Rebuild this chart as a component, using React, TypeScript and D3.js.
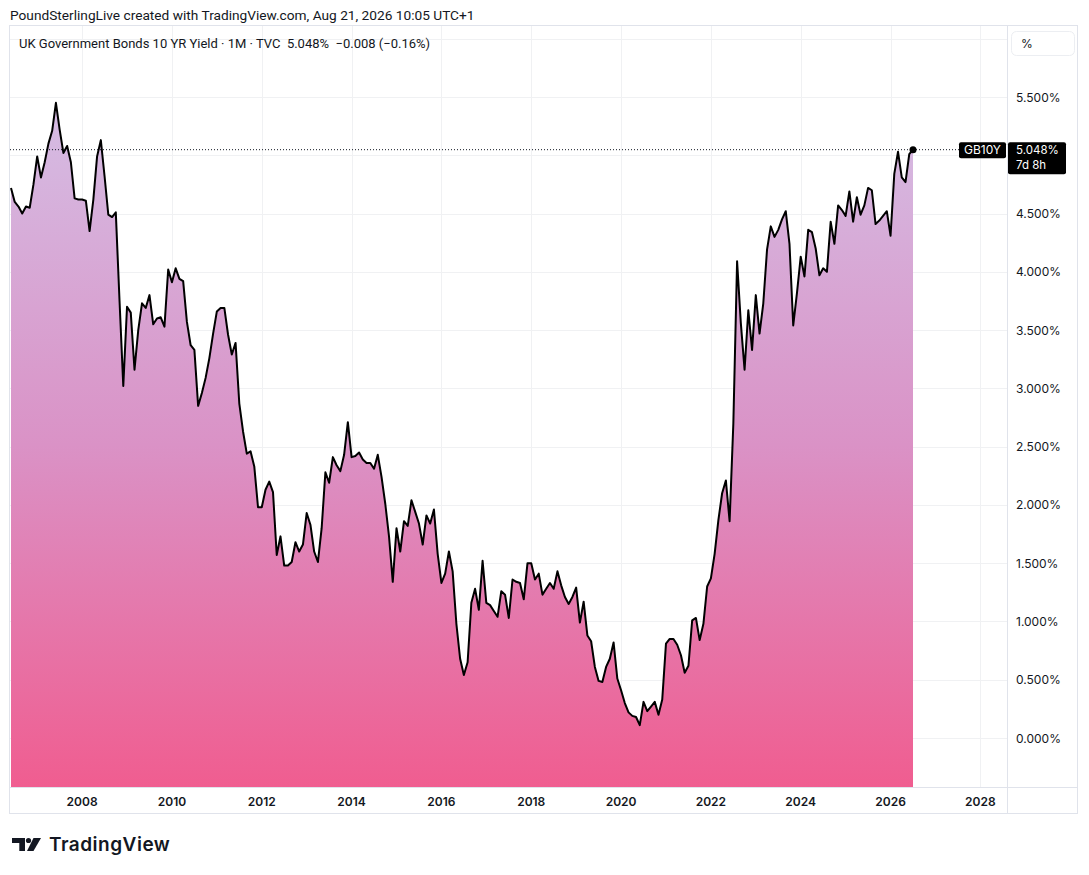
import React from "react";
import * as d3 from "d3";

// Monthly close of UK 10Y gilt yield (%), Jun 2006 .. Aug 2026
const startLabel = "2006-06";
const yields: number[] = [
  4.72, 4.60, 4.56, 4.50, 4.56, 4.55, 4.75, 4.99, 4.81, 4.94, 5.10, 5.21, 5.45, 5.22, 5.02, 5.08, 4.94, 4.63, 4.62, 4.62,
  4.61, 4.35, 4.62, 4.99, 5.13, 4.82, 4.49, 4.47, 4.51, 3.75, 3.02, 3.70, 3.65, 3.16, 3.50, 3.73, 3.69, 3.80, 3.55, 3.60,
  3.61, 3.53, 4.02, 3.91, 4.03, 3.94, 3.92, 3.57, 3.37, 3.33, 2.85, 2.96, 3.09, 3.26, 3.47, 3.66, 3.69, 3.69, 3.46, 3.29,
  3.39, 2.87, 2.63, 2.44, 2.46, 2.33, 1.98, 1.98, 2.13, 2.20, 2.11, 1.57, 1.73, 1.48, 1.48, 1.51, 1.68, 1.60, 1.66, 1.93,
  1.83, 1.60, 1.51, 1.80, 2.28, 2.19, 2.41, 2.34, 2.29, 2.43, 2.71, 2.41, 2.42, 2.45, 2.39, 2.36, 2.36, 2.31, 2.43, 2.24,
  2.01, 1.73, 1.34, 1.80, 1.60, 1.86, 1.82, 2.04, 1.94, 1.84, 1.66, 1.91, 1.84, 1.96, 1.58, 1.33, 1.41, 1.60, 1.43, 0.98,
  0.68, 0.54, 0.65, 1.16, 1.28, 1.10, 1.52, 1.16, 1.14, 1.09, 1.04, 1.26, 1.23, 1.03, 1.36, 1.34, 1.33, 1.19, 1.50, 1.50,
  1.36, 1.41, 1.23, 1.28, 1.33, 1.28, 1.43, 1.31, 1.21, 1.15, 1.21, 1.29, 0.99, 1.17, 0.88, 0.83, 0.61, 0.49, 0.48, 0.61,
  0.68, 0.82, 0.51, 0.41, 0.30, 0.22, 0.19, 0.18, 0.11, 0.31, 0.23, 0.27, 0.31, 0.20, 0.33, 0.81, 0.85, 0.85, 0.80, 0.71,
  0.56, 0.62, 1.01, 1.03, 0.84, 0.98, 1.30, 1.37, 1.58, 1.87, 2.10, 2.21, 1.86, 2.70, 4.09, 3.56, 3.16, 3.67, 3.33, 3.80,
  3.47, 3.73, 4.19, 4.39, 4.30, 4.36, 4.45, 4.52, 4.24, 3.54, 3.82, 4.13, 3.96, 4.36, 4.34, 4.20, 3.97, 4.03, 4.00, 4.43,
  4.24, 4.57, 4.53, 4.48, 4.69, 4.43, 4.64, 4.49, 4.57, 4.72, 4.70, 4.41, 4.44, 4.48, 4.52, 4.31, 4.84, 5.03, 4.81, 4.77,
  5.01, 5.048,
];
const tickYears: number[] = [2008, 2010, 2012, 2014, 2016, 2018, 2020, 2022, 2024, 2026, 2028];
const priceTicks: number[] = [0, 0.5, 1, 1.5, 2, 2.5, 3, 3.5, 4, 4.5, 5, 5.5];
const gridLevels: number[] = [0, 0.5, 1, 1.5, 2, 2.5, 3, 3.5, 4, 4.5, 5, 5.5, 6];
const headerText = "PoundSterlingLive created with TradingView.com, Aug 21, 2026 10:05 UTC+1";
const legendText = "UK Government Bonds 10 YR Yield · 1M · TVC  5.048%  −0.008 (−0.16%)";
const symbol = "GB10Y";
const countdown = "7d 8h";

const W = 1089;
const H = 875;
const FONT = "Inter, 'Noto Sans', sans-serif";
const FONT2 = "Roboto, 'Noto Sans', sans-serif";
const TXT = "#131722";

export default function App() {
  const startYear = +startLabel.slice(0, 4);
  const startMonth = +startLabel.slice(5, 7);
  const plot = { left: 10, right: 1007, top: 25, bottom: 787 };
  const n = yields.length;
  const x = d3.scaleLinear().domain([0, n - 1]).range([11, 913]);
  const y = d3.scaleLinear().domain([0, 5.5]).range([738, 97]);
  const monthIndex = (yr: number) => (yr - startYear) * 12 + (1 - startMonth);

  const line = d3
    .line<number>()
    .x((_, i) => x(i))
    .y((d) => y(d));
  const area = d3
    .area<number>()
    .x((_, i) => x(i))
    .y0(plot.bottom)
    .y1((d) => y(d));

  const last = yields[n - 1];
  const lastY = y(last);
  const maxY = y(d3.max(yields) as number);
  // tick labels hidden behind the last-value badge
  const visibleTicks = priceTicks.filter((v) => Math.abs(y(v) - (lastY + 8)) > 22);

  return (
    <div style={{ position: "absolute", left: 0, top: 0 }}>
      <svg width={W} height={H} style={{ display: "block", fontFamily: FONT }}>
        <defs>
          <linearGradient id="fillGrad" gradientUnits="userSpaceOnUse" x1="0" x2="0" y1={maxY} y2={plot.bottom}>
            <stop offset="0" stopColor="#d5bde4" />
            <stop offset="0.5" stopColor="#da92c6" />
            <stop offset="1" stopColor="#f05d90" />
          </linearGradient>
          <clipPath id="plotClip">
            <rect x={plot.left} y={plot.top} width={plot.right - plot.left} height={plot.bottom - plot.top} />
          </clipPath>
        </defs>
        <rect x={0} y={0} width={W} height={H} fill="#ffffff" />

        <text x={10} y={20} fontSize={13.7} fill={TXT} fontFamily={FONT2}>
          {headerText}
        </text>

        {/* grid */}
        <g stroke="#f0f1f3" strokeWidth={1}>
          {gridLevels.map((v) => (
            <line key={"h" + v} x1={plot.left} x2={plot.right} y1={Math.round(y(v)) + 0.5} y2={Math.round(y(v)) + 0.5} />
          ))}
          {tickYears.map((yr) => (
            <line
              key={"v" + yr}
              x1={Math.round(x(monthIndex(yr))) + 0.5}
              x2={Math.round(x(monthIndex(yr))) + 0.5}
              y1={plot.top}
              y2={plot.bottom}
            />
          ))}
        </g>

        <g clipPath="url(#plotClip)">
          <path d={area(yields) || ""} fill="url(#fillGrad)" />
          <path d={line(yields) || ""} fill="none" stroke="#000" strokeWidth={2} strokeLinejoin="round" />
          <line x1={plot.left} x2={959} y1={lastY} y2={lastY} stroke="#131722" strokeWidth={1} strokeDasharray="1 2" />
          <circle cx={x(n - 1)} cy={lastY} r={3.5} fill="#000" />
        </g>

        {/* frame & separators */}
        <rect x={9.5} y={25.5} width={1068} height={788} fill="none" stroke="#e0e3eb" strokeWidth={1} />
        <line x1={plot.right + 0.5} x2={plot.right + 0.5} y1={25} y2={813} stroke="#e0e3eb" />
        <line x1={10} x2={1077} y1={plot.bottom + 0.5} y2={plot.bottom + 0.5} stroke="#e0e3eb" />

        <text x={19} y={47.5} fontSize={13} fill={TXT} fontFamily={FONT2} style={{ whiteSpace: "pre" }}>
          {legendText}
        </text>

        {/* price axis */}
        <rect x={1011.5} y={31.5} width={63} height={24} rx={5} fill="#fff" stroke="#eceef2" />
        <text x={1021} y={47.5} fontSize={12} fill={TXT}>
          %
        </text>
        {visibleTicks.map((v) => (
          <text key={"p" + v} x={1016} y={y(v) + 4.5} fontSize={12} fill={TXT}>
            {v.toFixed(3) + "%"}
          </text>
        ))}

        {/* last value labels */}
        <rect x={959} y={lastY - 7.5} width={47} height={16} rx={2} fill="#000" />
        <text x={982.5} y={lastY + 4.3} fontSize={12} fill="#fff" textAnchor="middle">
          {symbol}
        </text>
        <rect x={1008} y={lastY - 7.5} width={58} height={32} rx={2} fill="#000" />
        <text x={1016} y={lastY + 4} fontSize={11.5} fill="#fff">
          {last.toFixed(3) + "%"}
        </text>
        <text x={1016} y={lastY + 19.5} fontSize={11.5} fill="#fff">
          {countdown}
        </text>

        {/* time axis */}
        {tickYears.map((yr) => (
          <text
            key={"t" + yr}
            x={x(monthIndex(yr))}
            y={806}
            fontSize={12}
            fontWeight={600}
            fill={TXT}
            textAnchor="middle"
          >
            {yr}
          </text>
        ))}

        {/* TradingView logo */}
        <g fill="#131722">
          <path d="M12,838 H25 V851 H19.3 V843 H12 Z" />
          <circle cx={28.5} cy={840.5} r={2.6} />
          <path d="M33.5,838 H41 L33.5,851 H27 Z" />
          <text x={49} y={851} fontSize={19} fontWeight={600} letterSpacing={0.5}>
            TradingView
          </text>
        </g>
      </svg>
    </div>
  );
}
